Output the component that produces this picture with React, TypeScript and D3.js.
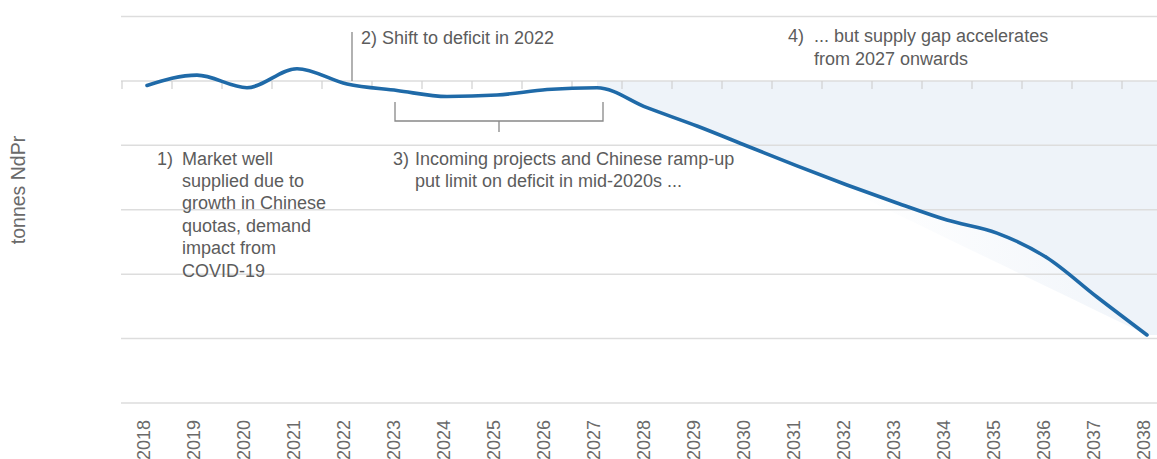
import React from 'react';
import * as d3 from 'd3';

// ---- data (net market balance, tonnes NdPr) ----
const years = ['2018','2019','2020','2021','2022','2023','2024','2025','2026','2027','2028','2029','2030','2031','2032','2033','2034','2035','2036','2037','2038'];
const balance = [-700, 900, -1050, 1900, -480, -1490, -2420, -2190, -1340, -1050, -4150, -7000, -10100, -13200, -16150, -18950, -21600, -23620, -27450, -33550, -39450];
const gridValues = [10000, 0, -10000, -20000, -30000, -40000, -50000];
const yTitle = 'tonnes NdPr';
const shadeFrom = '2027';
const wedgeFrom = '2031';

const W = 1157;
const H = 459;
const FONT = '"Liberation Sans", Arial, Helvetica, sans-serif';
const TEXT = '#5c5c5c';

export default function App() {
  const x = d3.scaleBand<string>().domain(years).range([122, 122 + years.length * 50]).padding(0);
  const cx = (yr: string) => (x(yr) as number) + x.bandwidth() / 2;
  const y = d3.scaleLinear().domain([-50000, 10000]).range([403, 16.5]);

  const pts = years.map((yr, i) => ({ yr, v: balance[i] }));
  const lineGen = d3.line<{ yr: string; v: number }>().x(d => cx(d.yr)).y(d => y(d.v)).curve(d3.curveMonotoneX);
  const areaGen = d3.area<{ yr: string; v: number }>().x(d => cx(d.yr)).y0(y(0)).y1(d => y(d.v)).curve(d3.curveMonotoneX);

  // wedge below the curve, bounded by straight line between wedgeFrom and the last year
  const wi = years.indexOf(wedgeFrom);
  const wPts = pts.slice(wi);
  const v0 = wPts[0].v, v1 = wPts[wPts.length - 1].v;
  const n = wPts.length - 1;
  const wedgeGen = d3.area<{ yr: string; v: number }>()
    .x(d => cx(d.yr))
    .y0((d, i) => y(v0 + (v1 - v0) * (i / n)))
    .y1(d => y(d.v))
    .curve(d3.curveMonotoneX);

  const last = pts[pts.length - 1];
  const xEnd = x.range()[1];
  const zeroY = y(0);
  const boundaries = d3.range(years.length + 1).map(i => x.range()[0] + i * x.step());

  const ann = { fontFamily: FONT, fontSize: 18, fill: TEXT } as const;

  return (
    <div style={{ position: 'absolute', left: 0, top: 0 }}>
      <svg width={W} height={H} style={{ display: 'block', background: '#fff' }}>
        <defs>
          <clipPath id="shadeClip">
            <rect x={cx(shadeFrom)} y={0} width={W} height={H} />
          </clipPath>
          <linearGradient id="wedgeGrad" gradientUnits="userSpaceOnUse" x1={cx('2032')} x2={cx('2038')} y1={0} y2={0}>
            <stop offset="0" stopColor="#eef3f9" stopOpacity={0} />
            <stop offset="1" stopColor="#eef3f9" stopOpacity={0.85} />
          </linearGradient>
        </defs>

        {/* shaded supply-gap area */}
        <path d={areaGen(pts) || ''} fill="#eef3f9" clipPath="url(#shadeClip)" />
        <rect x={cx(last.yr)} y={zeroY} width={xEnd - cx(last.yr)} height={y(last.v) - zeroY} fill="#eef3f9" />
        <path d={wedgeGen(wPts) || ''} fill="url(#wedgeGrad)" />

        {/* gridlines */}
        {gridValues.map(g => (
          <line key={g} x1={x.range()[0] - 1} x2={xEnd} y1={y(g)} y2={y(g)} stroke="#dddddd" strokeWidth={1.5} />
        ))}
        {/* ticks on zero line */}
        {boundaries.map((b, i) => (
          <line key={i} x1={b} x2={b} y1={zeroY} y2={zeroY + 8} stroke="#d0d0d0" strokeWidth={1.2} />
        ))}

        {/* annotations */}
        <line x1={cx('2022') + 5} x2={cx('2022') + 5} y1={32} y2={zeroY} stroke="#888" strokeWidth={1.3} />
        <text x={361} y={44} {...ann}>2) Shift to deficit in 2022</text>

        <text y={42} {...ann}>
          <tspan x={788}>4)</tspan>
          <tspan x={814}>... but supply gap accelerates</tspan>
        </text>
        <text x={814} y={65} {...ann}>from 2027 onwards</text>

        <path
          d={`M${cx('2023') - 2},${102} V${121} H${cx('2027') + 6} V${102}`}
          fill="none" stroke="#888" strokeWidth={1.3}
        />
        <line x1={(cx('2023') + cx('2027')) / 2 + 2} x2={(cx('2023') + cx('2027')) / 2 + 2} y1={121} y2={132} stroke="#888" strokeWidth={1.3} />

        <text y={165} {...ann}>
          <tspan x={393}>3)</tspan>
          <tspan x={415}>Incoming projects and Chinese ramp-up</tspan>
        </text>
        <text x={415} y={187} {...ann}>put limit on deficit in mid-2020s ...</text>

        <text y={165} {...ann}>
          <tspan x={157}>1)</tspan>
          <tspan x={182}>Market well</tspan>
        </text>
        {['supplied due to', 'growth in Chinese', 'quotas, demand', 'impact from', 'COVID-19'].map((s, i) => (
          <text key={s} x={182} y={187 + i * 22.4} {...ann}>{s}</text>
        ))}

        {/* the balance line */}
        <path d={lineGen(pts) || ''} fill="none" stroke="#1f6aa8" strokeWidth={3.6} strokeLinejoin="round" strokeLinecap="round" />

        {/* x axis labels */}
        {years.map(yr => (
          <text
            key={yr}
            transform={`translate(${cx(yr)},420) rotate(-90)`}
            textAnchor="end"
            dy="0.14em"
            fontFamily={FONT}
            fontSize={18}
            fill="#6a6a6a"
          >{yr}</text>
        ))}

        {/* y axis title */}
        <text transform="translate(25,190) rotate(-90)" textAnchor="middle" fontFamily={FONT} fontSize={19.5} fill="#6a6a6a">{yTitle}</text>
      </svg>
    </div>
  );
}
